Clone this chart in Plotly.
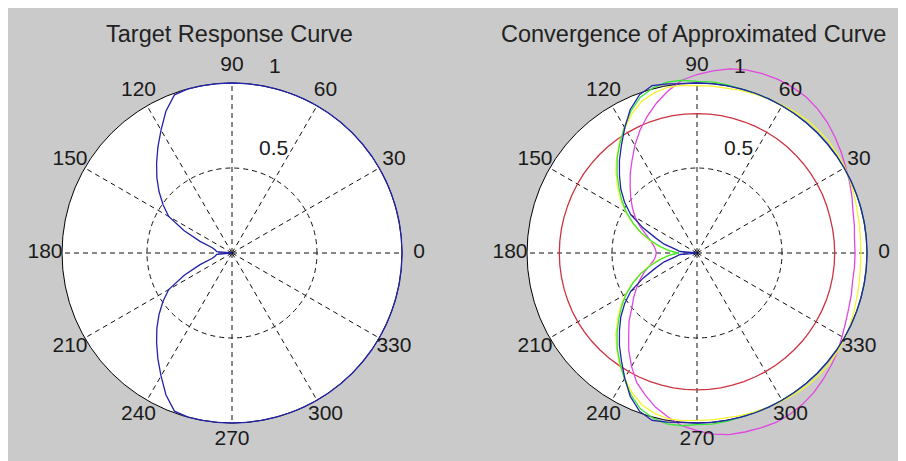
import plotly.graph_objects as go

# ---------------- data ----------------
ANGLES = list(range(0, 361, 5))  # degrees, 0..360

ANGLE_TICKS = [0, 30, 60, 90, 120, 150, 180, 210, 240, 270, 300, 330]
ANGLE_LABELS = ["0", "30", "60", "90", "120", "150", "180", "210", "240", "270", "300", "330"]
RADIAL_TICKS = [0.5, 1.0]
RADIAL_LABELS = ["0.5", "1"]

TITLE_LEFT = "Target Response Curve"
TITLE_RIGHT = "Convergence of Approximated Curve"

# target response (left panel)
TARGET_R = [
    1.0, 1.0, 1.0, 1.0, 1.0, 1.0, 1.0, 1.0, 1.0, 1.0, 1.0, 1.0, 1.0, 1.0, 1.0, 1.0, 1.0, 1.0, 1.0,
    1.0, 1.0, 1.0, 0.99, 0.92, 0.835, 0.76, 0.69, 0.625, 0.56, 0.495, 0.43, 0.31, 0.2, 0.12, 0.1, 0.09, 0.0,
    0.09, 0.1, 0.12, 0.2, 0.31, 0.43, 0.495, 0.56, 0.625, 0.69, 0.76, 0.835, 0.92, 0.99, 1.0, 1.0, 1.0, 1.0,
    1.0, 1.0, 1.0, 1.0, 1.0, 1.0, 1.0, 1.0, 1.0, 1.0, 1.0, 1.0, 1.0, 1.0, 1.0, 1.0, 1.0, 1.0,
]

# approximation iterations (right panel)
RED_R = [
    0.81, 0.81, 0.81, 0.81, 0.812, 0.814, 0.815, 0.816, 0.817, 0.818, 0.819, 0.82, 0.82, 0.82, 0.82, 0.82, 0.82, 0.82, 0.82,
    0.82, 0.82, 0.82, 0.82, 0.819, 0.818, 0.817, 0.816, 0.815, 0.814, 0.813, 0.812, 0.811, 0.81, 0.81, 0.81, 0.81, 0.81,
    0.81, 0.81, 0.81, 0.81, 0.81, 0.81, 0.809, 0.808, 0.807, 0.806, 0.805, 0.805, 0.805, 0.805, 0.805, 0.805, 0.805, 0.805,
    0.805, 0.805, 0.805, 0.805, 0.805, 0.806, 0.806, 0.807, 0.807, 0.808, 0.808, 0.809, 0.809, 0.81, 0.81, 0.81, 0.81, 0.81,
]
MAGENTA_R = [
    0.93, 0.93, 0.94, 0.95, 0.97, 0.99, 1.01, 1.035, 1.06, 1.085, 1.105, 1.12, 1.125, 1.127, 1.123, 1.115, 1.1, 1.075, 1.05,
    1.02, 0.97, 0.915, 0.856, 0.795, 0.731, 0.666, 0.611, 0.556, 0.509, 0.464, 0.42, 0.37, 0.32, 0.285, 0.26, 0.245, 0.24,
    0.245, 0.26, 0.29, 0.33, 0.37, 0.41, 0.455, 0.5, 0.565, 0.625, 0.7, 0.77, 0.84, 0.89, 0.94, 0.98, 1.02, 1.045,
    1.07, 1.085, 1.09, 1.095, 1.1, 1.095, 1.085, 1.07, 1.05, 1.03, 1.01, 0.985, 0.965, 0.95, 0.94, 0.93, 0.93, 0.93,
]
YELLOW_R = [
    0.965, 0.965, 0.97, 0.975, 0.985, 0.995, 1.005, 1.01, 1.015, 1.015, 1.015, 1.01, 1.005, 1.0, 0.995, 0.99, 0.985, 0.985, 0.985,
    0.99, 0.99, 0.975, 0.95, 0.905, 0.85, 0.795, 0.735, 0.675, 0.61, 0.55, 0.485, 0.42, 0.355, 0.29, 0.23, 0.17, 0.12,
    0.17, 0.23, 0.29, 0.355, 0.42, 0.485, 0.55, 0.61, 0.675, 0.735, 0.795, 0.85, 0.905, 0.95, 0.975, 0.99, 0.99, 0.985,
    0.985, 0.985, 0.99, 0.995, 1.0, 1.005, 1.01, 1.015, 1.015, 1.015, 1.01, 1.005, 0.995, 0.985, 0.975, 0.97, 0.965, 0.965,
]
GREEN_R = [
    1.0, 1.0, 1.0, 1.0, 1.0, 1.0, 1.0, 1.0, 1.0, 1.0, 1.0, 1.0, 1.0, 1.0, 1.0, 1.0, 1.005, 1.01, 1.01,
    1.02, 1.02, 1.005, 0.975, 0.92, 0.855, 0.79, 0.73, 0.665, 0.6, 0.54, 0.48, 0.415, 0.35, 0.28, 0.22, 0.165, 0.11,
    0.165, 0.22, 0.28, 0.35, 0.415, 0.48, 0.54, 0.6, 0.665, 0.73, 0.79, 0.855, 0.92, 0.975, 1.005, 1.02, 1.02, 1.01,
    1.01, 1.005, 1.0, 1.0, 1.0, 1.0, 1.0, 1.0, 1.0, 1.0, 1.0, 1.0, 1.0, 1.0, 1.0, 1.0, 1.0, 1.0,
]
BLUE_R = [
    1.0, 1.0, 1.0, 1.0, 1.0, 1.0, 1.0, 1.0, 1.0, 1.0, 1.0, 1.0, 1.0, 1.0, 1.0, 1.0, 1.0, 1.0, 1.0,
    1.0, 1.01, 1.02, 0.99, 0.93, 0.85, 0.775, 0.71, 0.645, 0.585, 0.52, 0.45, 0.35, 0.26, 0.2, 0.13, 0.1, 0.0,
    0.1, 0.13, 0.2, 0.26, 0.35, 0.45, 0.52, 0.585, 0.645, 0.71, 0.775, 0.85, 0.93, 0.99, 1.02, 1.01, 1.0, 1.0,
    1.0, 1.0, 1.0, 1.0, 1.0, 1.0, 1.0, 1.0, 1.0, 1.0, 1.0, 1.0, 1.0, 1.0, 1.0, 1.0, 1.0, 1.0,
]

# ---------------- style ----------------
W, H = 906, 461
FONT = "Liberation Sans, Arial, Helvetica, sans-serif"
TXT = "#1a1a1a"
BG_GRAY = "#cacaca"
C_BLUE = "#2222aa"
C_RED = "#cc3340"
C_MAGENTA = "#e046e0"
C_YELLOW = "#f4f430"
C_GREEN = "#3ae83a"
LW = 1.3
GRID_DASH = "5px,4px"

RADIUS_PX = 170          # pixel radius of r = 1
OVER_RANGE = 1.2         # overlay polar range (room for labels / r > 1)
# centres in figure pixels (the page itself adds an 8px body margin)
LEFT_C = (224, 245)
RIGHT_C = (689, 245)

LABEL_R = 1.1
RADIAL_LABEL_POS_R = [0.655, 1.12]
RADIAL_LABEL_POS_T = [68, 77]


def dom(center, rpx):
    cx, cy = center
    x = [(cx - rpx) / W, (cx + rpx) / W]
    y = [1 - (cy + rpx) / H, 1 - (cy - rpx) / H]
    return dict(x=x, y=y)


def frame_polar(center):
    return dict(
        domain=dom(center, RADIUS_PX),
        bgcolor="white",
        angularaxis=dict(
            rotation=0, direction="counterclockwise",
            tickmode="array", tickvals=ANGLE_TICKS,
            showticklabels=False, ticks="",
            showline=True, linecolor="black", linewidth=1,
            showgrid=True, gridcolor="#111111", gridwidth=1.1, griddash=GRID_DASH,
        ),
        radialaxis=dict(
            range=[0, 1], tickmode="array", tickvals=[RADIAL_TICKS[0]],
            showticklabels=False, ticks="", showline=False,
            showgrid=True, gridcolor="#111111", gridwidth=1.1, griddash=GRID_DASH,
        ),
    )


def overlay_polar(center):
    return dict(
        domain=dom(center, RADIUS_PX * OVER_RANGE),
        bgcolor="rgba(0,0,0,0)",
        angularaxis=dict(rotation=0, direction="counterclockwise", visible=False),
        radialaxis=dict(range=[0, OVER_RANGE], visible=False),
    )


fig = go.Figure()

# invisible anchor traces so the two frame subplots (disc, rings, spokes) are drawn
for sp in ["polar", "polar2"]:
    fig.add_trace(go.Scatterpolar(
        r=[RADIAL_TICKS[0]], theta=[ANGLE_TICKS[0]], mode="markers", subplot=sp,
        marker=dict(size=1, opacity=0), showlegend=False, hoverinfo="skip",
    ))

# left: target (drawn on overlay polar3, same centre/scale as frame polar)
fig.add_trace(go.Scatterpolar(
    r=TARGET_R, theta=ANGLES, mode="lines", subplot="polar3",
    line=dict(color=C_BLUE, width=LW), showlegend=False, hoverinfo="skip",
))

# right: iterations
for rr, col in [(RED_R, C_RED), (MAGENTA_R, C_MAGENTA), (YELLOW_R, C_YELLOW),
                (GREEN_R, C_GREEN), (BLUE_R, C_BLUE)]:
    fig.add_trace(go.Scatterpolar(
        r=rr, theta=ANGLES, mode="lines", subplot="polar4",
        line=dict(color=col, width=LW), showlegend=False, hoverinfo="skip",
    ))

# tick labels placed like MATLAB's polar() (centred at 1.1 * rmax)
for sp in ["polar3", "polar4"]:
    fig.add_trace(go.Scatterpolar(
        r=[LABEL_R] * len(ANGLE_TICKS), theta=ANGLE_TICKS, text=ANGLE_LABELS,
        mode="text", subplot=sp, textfont=dict(family=FONT, size=21, color=TXT),
        showlegend=False, hoverinfo="skip",
    ))
    fig.add_trace(go.Scatterpolar(
        r=RADIAL_LABEL_POS_R, theta=RADIAL_LABEL_POS_T, text=RADIAL_LABELS,
        mode="text", subplot=sp, textfont=dict(family=FONT, size=21, color=TXT),
        showlegend=False, hoverinfo="skip",
    ))

fig.update_layout(
    width=W, height=H,
    margin=dict(l=0, r=0, t=0, b=0),
    paper_bgcolor=BG_GRAY,
    polar=frame_polar(LEFT_C),
    polar2=frame_polar(RIGHT_C),
    polar3=overlay_polar(LEFT_C),
    polar4=overlay_polar(RIGHT_C),
    showlegend=False,
    annotations=[
        dict(text=TITLE_LEFT, x=221 / W, y=1 - 25.5 / H, xref="paper", yref="paper",
             xanchor="center", yanchor="middle", showarrow=False,
             font=dict(family=FONT, size=23.5, color="#222222")),
        dict(text=TITLE_RIGHT, x=685.5 / W, y=1 - 25.5 / H, xref="paper", yref="paper",
             xanchor="center", yanchor="middle", showarrow=False,
             font=dict(family=FONT, size=23.5, color="#222222")),
    ],
)

fig.write_html("out.html", config={"displayModeBar": False})
